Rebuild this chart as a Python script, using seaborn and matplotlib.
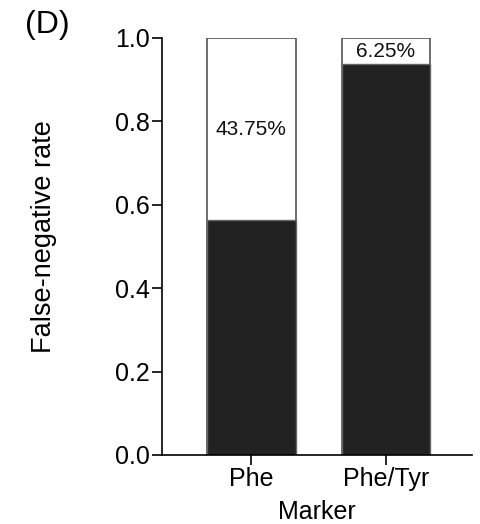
import matplotlib
matplotlib.use("Agg")
import matplotlib.pyplot as plt
import seaborn as sns
import pandas as pd

categories = ["Phe", "Phe/Tyr"]
detected = [0.5625, 0.9375]
missed = [0.4375, 0.0625]
labels = ["43.75%", "6.25%"]
yticks = [0.0, 0.2, 0.4, 0.6, 0.8, 1.0]

sns.set_theme(style="ticks")
plt.rcParams["font.family"] = ["Liberation Sans", "DejaVu Sans"]
plt.rcParams["text.color"] = "black"
plt.rcParams["axes.labelcolor"] = "black"

df = pd.DataFrame({
    "Marker": categories,
    "total": [d + m for d, m in zip(detected, missed)],
    "detected": detected,
})

fig = plt.figure(figsize=(4.8, 5.24), dpi=100)
ax = fig.add_axes([0.3375, 0.1317, 0.6458, 0.7958])

sns.barplot(data=df, x="Marker", y="total", color="white", edgecolor="#555555",
            linewidth=1.2, width=0.66, ax=ax, saturation=1)
sns.barplot(data=df, x="Marker", y="detected", color="#222222", edgecolor="#666666",
            linewidth=1.0, width=0.66, ax=ax, saturation=1)

for i, (d, m, lab) in enumerate(zip(detected, missed, labels)):
    ax.text(i, d + m / 2, lab, ha="center", va="center", fontsize=15, color="#111111")

ax.set_xlim(-0.665, 1.64)
ax.set_ylim(0, 1.0)
ax.set_yticks(yticks)
ax.set_yticklabels([f"{t:.1f}" for t in yticks])
ax.tick_params(axis="both", labelsize=18, length=7, width=1.2, pad=2,
               colors="black", labelcolor="black")
ax.set_xlabel("Marker", fontsize=18, labelpad=6, color="black")
ax.set_ylabel("False-negative rate", fontsize=19.5, color="black")
ax.yaxis.set_label_coords(-0.34, 0.523)
for s in ["top", "right"]:
    ax.spines[s].set_visible(False)
for s in ["left", "bottom"]:
    ax.spines[s].set_linewidth(1.2)
    ax.spines[s].set_color("black")

fig.text(0.052, 0.98, "(D)", fontsize=23, ha="left", va="top", color="black")

fig.savefig("out.png", dpi=100)
